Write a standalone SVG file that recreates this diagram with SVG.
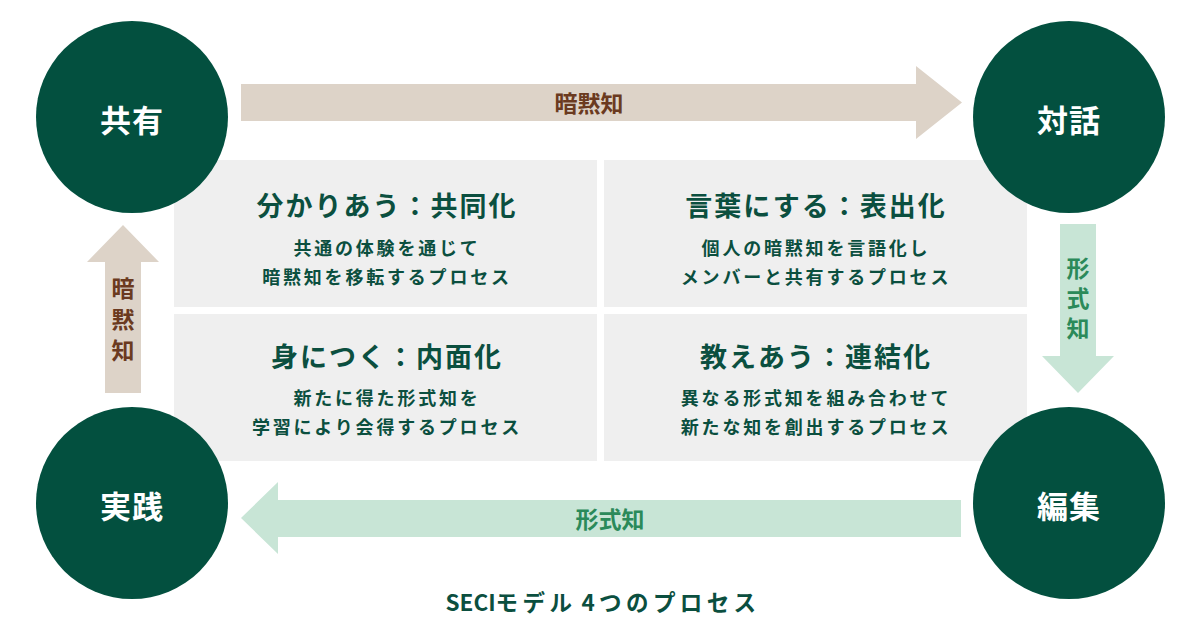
<svg xmlns="http://www.w3.org/2000/svg" width="1200" height="632" viewBox="0 0 1200 632">
<style>
text{font-family:"Noto Sans CJK JP","Noto Sans",sans-serif;font-weight:700;text-anchor:middle;dominant-baseline:central}
.circ{fill:#03503f}
.ctext{fill:#ffffff;font-size:31px;letter-spacing:1px}
.box{fill:#efefef}
.btitle{fill:#0b4f3f;font-size:27px;letter-spacing:2px}
.bline{fill:#0b4f3f;font-size:18px;letter-spacing:2.8px}
.tacit{fill:#ddd3c8}
.explicit{fill:#c8e5d6}
.tlab{fill:#6b3a20;font-size:23px}
.elab{fill:#2b8a5a;font-size:23px}
.vert{writing-mode:vertical-rl;text-orientation:upright}
.title{fill:#0b4f3f;font-size:22.5px}
.title .jp{letter-spacing:4.4px}
.title .sp{letter-spacing:0px}
</style>
<rect width="1200" height="632" fill="#ffffff"/>
<g id="connectors">
  <g id="arrow-top">
    <polygon class="tacit" points="241,84 916,84 916,66 962,102.5 916,139 916,121 241,121"/>
    <text class="tlab" x="589" y="102">暗黙知</text>
  </g>
  <g id="arrow-right">
    <polygon class="explicit" points="1060,224 1096,224 1096,356 1114,356 1078,393 1042,356 1060,356"/>
    <text class="elab vert" x="1078" y="301.5" style="letter-spacing:7px">形式知</text>
  </g>
  <g id="arrow-bottom">
    <polygon class="explicit" points="961,500 961,537 278,537 278,554 241,518 278,482 278,500"/>
    <text class="elab" x="610" y="518">形式知</text>
  </g>
  <g id="arrow-left">
    <polygon class="tacit" points="105,393 105,262 87,262 123,225 159,262 141,262 141,393"/>
    <text class="tlab vert" x="123" y="323" style="letter-spacing:8px">暗黙知</text>
  </g>
</g>
<g id="box-socialization">
  <rect class="box" x="174" y="160" width="423" height="147"/>
  <text class="btitle" x="387" y="204">分かりあう：共同化</text>
  <text class="bline" x="387" y="247">共通の体験を通じて</text>
  <text class="bline" x="387" y="276">暗黙知を移転するプロセス</text>
</g>
<g id="box-externalization">
  <rect class="box" x="604" y="160" width="423" height="147"/>
  <text class="btitle" x="816" y="204">言葉にする：表出化</text>
  <text class="bline" x="816" y="247">個人の暗黙知を言語化し</text>
  <text class="bline" x="816" y="276">メンバーと共有するプロセス</text>
</g>
<g id="box-internalization">
  <rect class="box" x="174" y="314" width="423" height="147"/>
  <text class="btitle" x="387" y="355">身につく：内面化</text>
  <text class="bline" x="387" y="397">新たに得た形式知を</text>
  <text class="bline" x="387" y="426">学習により会得するプロセス</text>
</g>
<g id="box-combination">
  <rect class="box" x="604" y="314" width="423" height="147"/>
  <text class="btitle" x="816" y="355">教えあう：連結化</text>
  <text class="bline" x="816" y="397">異なる形式知を組み合わせて</text>
  <text class="bline" x="816" y="426">新たな知を創出するプロセス</text>
</g>
<g id="node-share">
  <circle class="circ" cx="132" cy="117" r="96"/>
  <text class="ctext" x="132" y="118">共有</text>
</g>
<g id="node-dialogue">
  <circle class="circ" cx="1069" cy="117" r="96"/>
  <text class="ctext" x="1069" y="118">対話</text>
</g>
<g id="node-practice">
  <circle class="circ" cx="132" cy="503" r="96"/>
  <text class="ctext" x="132" y="504">実践</text>
</g>
<g id="node-edit">
  <circle class="circ" cx="1069" cy="503" r="96"/>
  <text class="ctext" x="1069" y="504">編集</text>
</g>
<text class="title" x="603" y="601">SECI<tspan class="jp">モデル</tspan><tspan class="sp"> </tspan><tspan class="jp">4つのプロセス</tspan></text>
</svg>
